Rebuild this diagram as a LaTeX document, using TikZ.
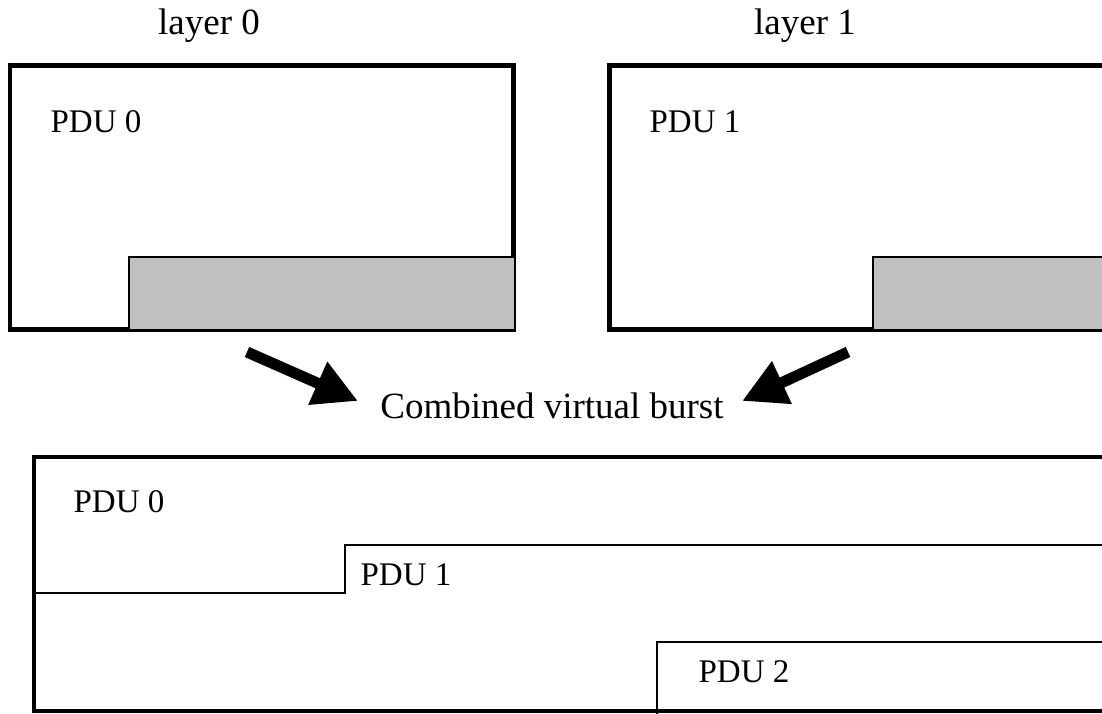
\documentclass[tikz,border=0pt]{standalone}
\usepackage{fontspec}
\setmainfont{Liberation Serif}
\usetikzlibrary{arrows.meta}

\definecolor{shade}{HTML}{C0C0C0}

\tikzset{
  frame/.style={draw=black, line width=4.8pt},
  shadebox/.style={fill=shade, draw=black, line width=1.6pt},
  stepline/.style={draw=black, line width=2pt},
  lbl/.style={font=\fontsize{33}{38}\selectfont, inner sep=0pt, anchor=base},
  biglbl/.style={font=\fontsize{37}{42}\selectfont, inner sep=0pt, anchor=base},
  bigarrow/.style={draw=black, line width=11pt,
    -{Triangle[length=44pt, width=44pt]}},
}

\begin{document}
\begin{tikzpicture}[x=1pt, y=-1pt]
  \useasboundingbox (0,0) rectangle (1102,713);
  \clip (0,0) rectangle (1102,713);

  % captions above the two layers
  \node[biglbl] (cap0) at (209,34) {layer 0};
  \node[biglbl] (cap1) at (805,34) {layer 1};

  % layer 0 burst
  \draw[frame] (10,65.5) rectangle (513.5,329.5);
  \draw[shadebox] (129,257) rectangle (515,330);
  \node[lbl] (pduA) at (96,132) {PDU 0};

  % layer 1 burst (runs past the right edge)
  \draw[frame] (609.5,65.5) rectangle (1115,329.5);
  \draw[shadebox] (873,257) rectangle (1115,330);
  \node[lbl] (pduB) at (695,132) {PDU 1};

  % merging into one burst
  \node[biglbl] (comb) at (552,418) {Combined virtual burst};
  \coordinate (tailA) at (247,352);
  \coordinate (tailB) at (848,352);
  \draw[bigarrow] (tailA) -- (358,401);
  \draw[bigarrow] (tailB) -- (742,401);

  % combined virtual burst
  \draw[frame] (34,457) rectangle (1115,711);
  \draw[stepline] (34,593) -- (345,593) -- (345,545) -- (1115,545);
  \draw[stepline] (657,715) -- (657,642) -- (1115,642);
  \node[lbl] (c0) at (119,512) {PDU 0};
  \node[lbl] (c1) at (406,585) {PDU 1};
  \node[lbl] (c2) at (744,682) {PDU 2};
\end{tikzpicture}
\end{document}
